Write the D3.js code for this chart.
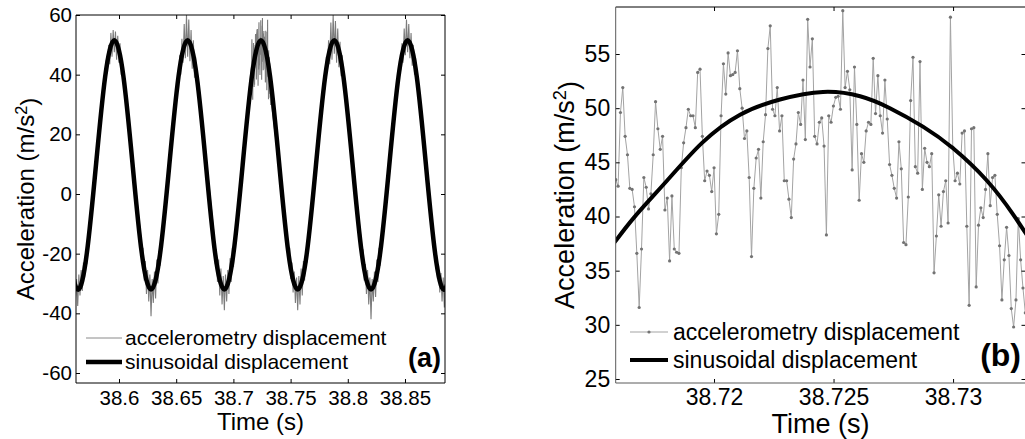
<!DOCTYPE html>
<html>
<head>
<meta charset="utf-8">
<script src="https://cdn.jsdelivr.net/npm/d3@7"></script>
<style>
  body { margin: 0; background: #fff; }
  svg { display: block; font-family: "Liberation Sans", Arial, sans-serif; }
</style>
</head>
<body>
<svg id="chart" width="1025" height="439"></svg>
<script>
// ---- panel (a): sinusoid read at peaks, troughs and in between
const aSinT = [38.5559, 38.5639, 38.5719, 38.5799, 38.5879, 38.5959, 38.6039, 38.6119, 38.6199,
  38.6280, 38.6360, 38.6440, 38.6520, 38.6600, 38.6680, 38.6760, 38.6840,
  38.6921, 38.7001, 38.7081, 38.7161, 38.7241, 38.7321, 38.7401, 38.7481,
  38.7562, 38.7642, 38.7722, 38.7802, 38.7882, 38.7962, 38.8042, 38.8122,
  38.8203, 38.8283, 38.8363, 38.8443, 38.8523, 38.8603, 38.8683, 38.8763,
  38.8844, 38.8924];
const aSinV = [-19.8, -32, -19.8, 9.8, 39.3, 51.5, 39.3, 9.8, -19.8,
  -32, -19.8, 9.8, 39.3, 51.5, 39.3, 9.8, -19.8,
  -32, -19.8, 9.8, 39.3, 51.5, 39.3, 9.8, -19.8,
  -32, -19.8, 9.8, 39.3, 51.5, 39.3, 9.8, -19.8,
  -32, -19.8, 9.8, 39.3, 51.5, 39.3, 9.8, -19.8,
  -32, -19.8];

// accelerometry around each peak / trough (the third peak is the panel (b) record)
const aBurstMid = [38.5639, 38.5959, 38.6280, 38.6600, 38.6921, 38.7562, 38.7882, 38.8203, 38.8523, 38.8844];
const aStep = 0.001;
const aBurstVal = [
  [-15.5, -22.0, -19.8, -28.0, -24.5, -31.5, -26.0, -35.0, -28.5, -37.5, -27.0, -34.0, -25.5, -32.5, -23.0, -28.0, -18.5, -23.5, -14.0],
  [38.0, 35.5, 45.0, 40.5, 50.0, 43.5, 54.0, 46.0, 55.0, 47.5, 54.5, 45.0, 53.0, 44.0, 50.5, 40.0, 45.0, 36.5, 38.5],
  [-14.0, -23.0, -18.0, -29.0, -22.5, -33.5, -25.5, -36.0, -27.0, -41.0, -28.5, -36.5, -26.0, -35.0, -22.0, -30.0, -19.0, -24.0, -15.0],
  [39.0, 34.5, 46.5, 40.0, 52.0, 44.0, 57.0, 45.5, 60.0, 46.0, 58.5, 44.5, 55.0, 42.0, 51.5, 39.0, 46.0, 35.0, 39.5],
  [-13.5, -23.5, -18.5, -29.5, -22.0, -34.0, -25.0, -37.0, -27.5, -39.0, -27.0, -36.0, -25.5, -33.5, -21.5, -29.5, -18.0, -24.5, -14.5],
  [-14.5, -22.5, -18.0, -28.5, -23.0, -33.0, -26.0, -36.5, -28.0, -39.0, -27.5, -37.0, -25.0, -34.0, -22.5, -29.0, -18.5, -23.0, -15.0],
  [38.5, 35.0, 46.0, 41.0, 51.5, 43.5, 57.5, 45.0, 60.0, 47.0, 58.0, 44.0, 55.5, 42.5, 51.0, 39.5, 46.5, 36.0, 38.0],
  [-14.0, -23.0, -18.5, -29.0, -23.5, -33.5, -25.5, -37.0, -28.0, -42.0, -28.5, -36.0, -26.0, -34.5, -22.0, -29.5, -18.0, -24.0, -14.5],
  [38.0, 36.0, 45.5, 41.5, 50.5, 44.0, 55.5, 46.5, 58.5, 47.5, 57.0, 45.5, 54.0, 43.0, 50.0, 40.0, 45.5, 36.5, 39.0],
  [-15.0, -22.5, -19.0, -28.5, -24.0, -33.0, -26.5, -36.0, -28.0, -38.0, -28.0, -34.0, -25.0, -31.0, -22.0, -27.0, -18.0, -22.0, -15.0]
];
const aXTicks = [38.6, 38.65, 38.7, 38.75, 38.8, 38.85];
const aYTicks = [-60, -40, -20, 0, 20, 40, 60];

// ---- panel (b): zoom on one peak, sampled record
const bStart = 38.71589;
const bStep = 0.0000979;
const bVal = [
  43.4, 42.8, 49.6, 51.9, 47.4, 45.7, 42.6, 42.5, 40.9, 36.6, 31.6, 37.0, 43.6, 42.7, 40.7, 42.1,
  45.7, 50.6, 48.1, 46.2, 47.4, 40.6, 41.7, 35.9, 41.9, 37.0, 36.7, 36.6, 44.5, 46.8, 48.2, 49.9,
  49.3, 49.3, 48.2, 53.3, 53.6, 47.4, 43.3, 44.2, 43.8, 42.3, 44.5, 38.4, 40.2, 49.3, 54.1, 51.3,
  55.1, 53.0, 53.1, 53.3, 55.3, 51.8, 50.0, 47.2, 47.9, 43.6, 36.3, 42.6, 45.4, 46.2, 41.7, 46.9,
  49.4, 55.5, 57.6, 49.9, 49.3, 51.9, 47.9, 49.3, 43.3,
  43.3, 41.6, 39.9, 45.3, 46.7, 49.6, 48.5, 52.6, 47.1, 58.2, 53.8, 56.4, 47.4, 46.7, 48.7, 49.1,
  46.5, 38.3, 49.3, 48.7, 50.2, 51.0, 51.1, 49.9, 59.0, 51.9, 53.4, 51.7, 44.3, 53.8, 48.5, 41.5,
  45.8, 45.0, 47.9, 48.7, 48.5, 54.6, 49.5, 53.0, 49.3, 47.7, 52.6, 49.0, 44.8, 43.8, 42.6, 41.7,
  46.9, 44.4, 37.6, 37.4, 41.8, 50.7, 54.7, 44.6, 44.0, 54.3, 42.5, 46.3, 45.0, 44.6, 45.8, 34.8,
  38.2, 42.0, 39.1, 42.3, 43.3, 39.4, 58.4, 46.4, 43.3, 44.0, 43.0, 47.7, 47.9, 39.1, 31.8, 48.1,
  48.2, 33.5, 39.2,
  40.8, 39.9, 42.5, 45.8, 41.0, 43.6, 43.8, 40.2, 37.3, 32.3, 36.0, 39.0, 36.4, 31.5, 29.8, 32.3,
  39.8, 36.0, 33.4, 31.1
];
const bSinT = [38.71560, 38.71665, 38.71803, 38.71950, 38.72109, 38.72276, 38.72456,
  38.72611, 38.72736, 38.72874, 38.73000, 38.73142, 38.73251, 38.73320];
const bSinV = [36.9, 39.9, 43.3, 46.8, 49.4, 50.8, 51.5, 51.1, 50.0, 48.3, 46.3, 43.3, 40.2, 37.9];
const bXTicks = [38.72, 38.725, 38.73];
const bYTicks = [25, 30, 35, 40, 45, 50, 55];

const svg = d3.select('#chart');

// draws the box, inward ticks on all four sides and the labels
function drawAxes(g, x, y, o) {
  const [x0, x1] = x.range();
  const [y0, y1] = y.range();
  const fmt = d => String(d);

  const bottom = g.append('g').attr('transform', `translate(0,${y0})`)
    .call(d3.axisBottom(x).tickValues(o.xTicks).tickSizeInner(-o.tick).tickSizeOuter(0)
      .tickPadding(o.xPad).tickFormat(fmt));
  const left = g.append('g').attr('transform', `translate(${x0},0)`)
    .call(d3.axisLeft(y).tickValues(o.yTicks).tickSizeInner(-o.tick).tickSizeOuter(0)
      .tickPadding(o.yPad).tickFormat(fmt));
  const top = g.append('g').attr('transform', `translate(0,${y1})`)
    .call(d3.axisTop(x).tickValues(o.xTicks).tickSizeInner(-o.tick).tickSizeOuter(0).tickFormat(''));
  const right = g.append('g').attr('transform', `translate(${x1},0)`)
    .call(d3.axisRight(y).tickValues(o.yTicks).tickSizeInner(-o.tick).tickSizeOuter(0).tickFormat(''));

  [bottom, left, top, right].forEach(a => {
    a.select('.domain').remove();
    a.selectAll('line').attr('stroke', '#000').attr('stroke-width', 1);
    a.selectAll('text').attr('fill', '#000').attr('font-size', o.tickFont)
      .attr('font-family', '"Liberation Sans", Arial, sans-serif');
  });

  g.append('line').attr('x1', x0).attr('x2', x1).attr('y1', y1).attr('y2', y1).attr('stroke', '#000');
  g.append('line').attr('x1', x1).attr('x2', x1).attr('y1', y1).attr('y2', y0).attr('stroke', '#000');
  g.append('line').attr('x1', x0).attr('x2', x1).attr('y1', y0).attr('y2', y0).attr('stroke', o.lowColor);
  g.append('line').attr('x1', x0).attr('x2', x0).attr('y1', y1).attr('y2', y0).attr('stroke', o.lowColor);

  // axis titles
  g.append('text').attr('x', (x0 + x1) / 2).attr('y', o.xTitleY)
    .attr('text-anchor', 'middle').attr('font-size', o.titleFont).text('Time (s)');
  const yt = g.append('text')
    .attr('transform', `translate(${o.yTitleX},${(y0 + y1) / 2}) rotate(-90)`)
    .attr('text-anchor', 'middle').attr('font-size', o.titleFont);
  yt.append('tspan').text('Acceleration (m/s');
  yt.append('tspan').attr('dy', '-0.42em').attr('font-size', o.titleFont * 0.68).text('2');
  yt.append('tspan').attr('dy', '0.42em').text(')');

  // panel tag
  g.append('text').attr('x', o.tagX).attr('y', o.tagY).attr('text-anchor', 'end')
    .attr('font-weight', 'bold').attr('font-size', o.tagFont).text(o.tag);
}

function clipFor(id, x, y) {
  const [x0, x1] = x.range();
  const [y0, y1] = y.range();
  svg.append('clipPath').attr('id', id).append('rect')
    .attr('x', x0).attr('y', y1).attr('width', x1 - x0).attr('height', y0 - y1);
  return `url(#${id})`;
}

// ---------------- panel (a)
const xa = d3.scaleLinear().domain([38.56241, 38.88497]).range([76, 445]);
const ya = d3.scaleLinear().domain([-63.35, 60]).range([383, 15]);
const ga = svg.append('g');

// accelerometry points: bursts plus the panel (b) record
let aPts = [];
aBurstMid.forEach((m, i) => {
  aBurstVal[i].forEach((v, k) => aPts.push([m + (k - 9) * aStep, v]));
});
bVal.forEach((v, i) => aPts.push([bStart + i * bStep, v]));
aPts.sort((p, q) => p[0] - q[0]);

const clipA = clipFor('clipA', xa, ya);
ga.append('path').datum(aPts).attr('clip-path', clipA)
  .attr('fill', 'none').attr('stroke', '#7c7c7c').attr('stroke-width', 1.1)
  .attr('d', d3.line().x(d => xa(d[0])).y(d => ya(d[1])));
ga.append('path').datum(aSinT.map((t, i) => [t, aSinV[i]])).attr('clip-path', clipA)
  .attr('fill', 'none').attr('stroke', '#000').attr('stroke-width', 4.5)
  .attr('stroke-linejoin', 'round')
  .attr('d', d3.line().curve(d3.curveNatural).x(d => xa(d[0])).y(d => ya(d[1])));

drawAxes(ga, xa, ya, {
  xTicks: aXTicks, yTicks: aYTicks, tick: 4, xPad: 7.8, yPad: 4,
  tickFont: 20.5, titleFont: 24, xTitleY: 430, yTitleX: 34, lowColor: '#000',
  tag: '(a)', tagX: 441, tagY: 367, tagFont: 27
});

// legend (a)
ga.append('line').attr('x1', 86).attr('x2', 122).attr('y1', 338).attr('y2', 338)
  .attr('stroke', '#8a8a8a').attr('stroke-width', 1);
ga.append('line').attr('x1', 86).attr('x2', 122).attr('y1', 362).attr('y2', 362)
  .attr('stroke', '#000').attr('stroke-width', 4.5);
ga.append('text').attr('x', 125).attr('y', 338).attr('dy', '0.35em').attr('font-size', 21)
  .text('accelerometry displacement');
ga.append('text').attr('x', 125).attr('y', 362).attr('dy', '0.35em').attr('font-size', 21)
  .text('sinusoidal displacement');

// ---------------- panel (b)
const xb = d3.scaleLinear().domain([38.715887, 38.73303]).range([615.7, 1025.5]);
const yb = d3.scaleLinear().domain([24.63, 59.34]).range([383, 7]);
const gb = svg.append('g');
const clipB = clipFor('clipB', xb, yb);

const bPts = bVal.map((v, i) => [bStart + i * bStep, v]);
gb.append('path').datum(bPts).attr('clip-path', clipB)
  .attr('fill', 'none').attr('stroke', '#a3a3a3').attr('stroke-width', 1)
  .attr('d', d3.line().x(d => xb(d[0])).y(d => yb(d[1])));
gb.append('g').attr('clip-path', clipB).selectAll('circle').data(bPts).join('circle')
  .attr('cx', d => xb(d[0])).attr('cy', d => yb(d[1])).attr('r', 1.6).attr('fill', '#737373');
gb.append('path').datum(bSinT.map((t, i) => [t, bSinV[i]])).attr('clip-path', clipB)
  .attr('fill', 'none').attr('stroke', '#000').attr('stroke-width', 4)
  .attr('d', d3.line().curve(d3.curveNatural).x(d => xb(d[0])).y(d => yb(d[1])));

drawAxes(gb, xb, yb, {
  xTicks: bXTicks, yTicks: bYTicks, tick: 4, xPad: 5.7, yPad: 5.5,
  tickFont: 23, titleFont: 27, xTitleY: 433, yTitleX: 574, lowColor: '#5a5a5a',
  tag: '(b)', tagX: 1021, tagY: 366, tagFont: 32
});

// legend (b)
gb.append('line').attr('x1', 630).attr('x2', 668).attr('y1', 332).attr('y2', 332)
  .attr('stroke', '#a3a3a3').attr('stroke-width', 1);
gb.append('circle').attr('cx', 649).attr('cy', 332).attr('r', 1.6).attr('fill', '#737373');
gb.append('line').attr('x1', 630).attr('x2', 668).attr('y1', 360).attr('y2', 360)
  .attr('stroke', '#000').attr('stroke-width', 4);
gb.append('text').attr('x', 673).attr('y', 332).attr('dy', '0.35em').attr('font-size', 23)
  .text('accelerometry displacement');
gb.append('text').attr('x', 673).attr('y', 360).attr('dy', '0.35em').attr('font-size', 23)
  .text('sinusoidal displacement');
</script>
</body>
</html>
